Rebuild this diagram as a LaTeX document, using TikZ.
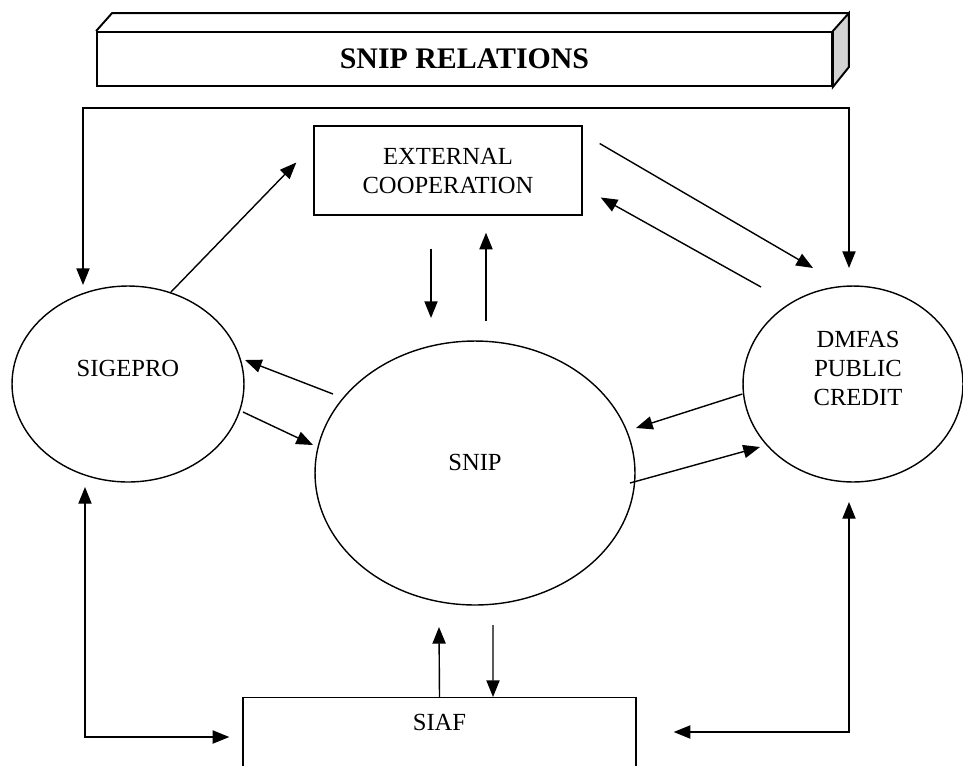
\documentclass[tikz,border=0pt]{standalone}
\usepackage{fontspec}
\setmainfont{Liberation Serif}
\usetikzlibrary{shapes.geometric,arrows.meta}

\begin{document}
\begin{tikzpicture}[x=0.02cm,y=-0.02cm,line width=0.8pt,
    >={Triangle[length=9.5pt,width=7.5pt]},
    font=\fontsize{14}{16.5}\selectfont]
    \clip (0,0) rectangle (963,765);
    % title bar with its top and side faces
    \node(title) at (464.5,59) [draw,line width=1.1pt,minimum width=14.7cm,minimum height=1.08cm,inner sep=0pt,font=\fontsize{17}{20}\selectfont\bfseries] {SNIP RELATIONS};
    \draw[line width=1.1pt] (title.north west) -- ++(16,-18) -- ([shift={(16,-18)}]title.north east);
    \draw[line width=1.1pt,fill=gray!35] (title.north east) -- ++(16,-18) -- ++(0,54) -- (title.south east) -- cycle;

    \node(ext) at (448,170.5) [draw,minimum width=5.36cm,minimum height=1.78cm,align=center] {EXTERNAL\\COOPERATION};
    \node(sigepro) at (128,384) [draw,ellipse,minimum width=4.64cm,minimum height=3.92cm,label={[yshift=0.32cm]center:SIGEPRO}] {};
    \node(snip) at (475,473) [draw,ellipse,minimum width=6.4cm,minimum height=5.28cm,label={[yshift=0.22cm]center:SNIP}] {};
    \node(dmfas) at (853,384) [draw,ellipse,minimum width=4.4cm,minimum height=3.92cm,label={[align=center,xshift=0.1cm,yshift=0.32cm]center:DMFAS\\PUBLIC\\CREDIT}] {};
    \node(siaf) at (439.5,697) [draw,anchor=north,minimum width=7.86cm,minimum height=2.4cm,label={[anchor=center,yshift=-0.5cm]north:SIAF}] {};

    % links around the external cooperation box
    \draw[->] (sigepro.65) -- ([shift={(-17,-8)}]ext.west);
    \draw[->] ([shift={(17,-27)}]ext.east) -- ([shift={(-40,-116)}]dmfas.center);
    \draw[->] ([shift={(-92,-97)}]dmfas.center) -- ([shift={(18,27)}]ext.east);
    \draw[->] ([shift={(-17,33)}]ext.south) -- ([shift={(-44,-155)}]snip.center);
    \draw[->] ([shift={(11,-152)}]snip.center) -- ([shift={(38,17)}]ext.south);

    % links around snip
    \draw[->] ([shift={(-142,-79)}]snip.center) -- ([shift={(117,-24)}]sigepro.center);
    \draw[->] ([shift={(115,28)}]sigepro.center) -- ([shift={(-162,-28)}]snip.center);
    \draw[->] ([shift={(0,10)}]dmfas.west) -- ([shift={(161,-45)}]snip.center);
    \draw[->] ([shift={(155,10)}]snip.center) -- ([shift={(-93,63)}]dmfas.center);
    \draw[->] (siaf.north) -- ([shift={(-36,154)}]snip.center);
    \draw[->] ([shift={(18,152)}]snip.center) -- ([shift={(53.5,0)}]siaf.north);

    % outer loops
    \draw[<->] ([shift={(-45,-99)}]sigepro.center) -- ++(0,-177) -| ([shift={(-4,-116)}]dmfas.center);
    \draw[<->] ([shift={(-43,103)}]sigepro.center) |- ([shift={(-13,40)}]siaf.north west);
    \draw[<->] ([shift={(37,35)}]siaf.north east) -| ([shift={(-4,118)}]dmfas.center);
\end{tikzpicture}
\end{document}
